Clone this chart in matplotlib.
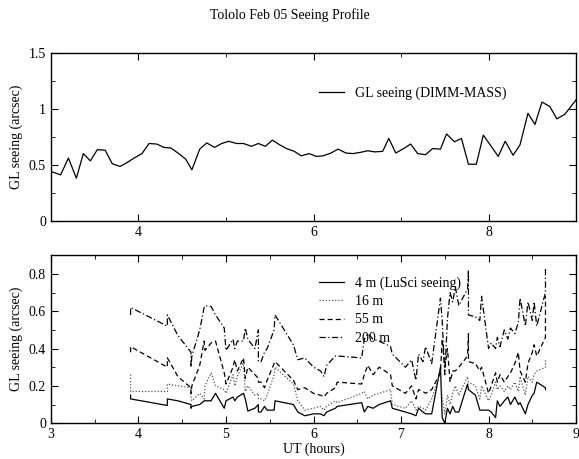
import numpy as np
import matplotlib
matplotlib.use("Agg")
import matplotlib.pyplot as plt
from matplotlib.ticker import MultipleLocator

# DIMM-MASS ground-layer seeing (top panel)
ut_dimm = [3.00, 3.11, 3.20, 3.29, 3.37, 3.45, 3.53, 3.62, 3.70, 3.79, 3.87, 3.95,
           4.04, 4.12, 4.21, 4.29, 4.37, 4.46, 4.54, 4.61, 4.70, 4.78, 4.87, 4.95,
           5.03, 5.12, 5.20, 5.29, 5.37, 5.45, 5.53, 5.61, 5.69, 5.78, 5.86, 5.95,
           6.03, 6.11, 6.20, 6.28, 6.37, 6.45, 6.53, 6.62, 6.70, 6.79, 6.86, 6.94,
           7.03, 7.11, 7.19, 7.28, 7.36, 7.45, 7.52, 7.61, 7.69, 7.77, 7.86, 7.94,
           8.03, 8.11, 8.19, 8.28, 8.36, 8.45, 8.53, 8.61, 8.70, 8.78, 8.87, 9.00]
gl_dimm = [0.44, 0.41, 0.56, 0.38, 0.60, 0.535, 0.635, 0.63, 0.51, 0.485, 0.52, 0.56,
           0.60, 0.69, 0.685, 0.655, 0.65, 0.60, 0.55, 0.455, 0.64, 0.695, 0.655, 0.69,
           0.71, 0.69, 0.69, 0.665, 0.69, 0.665, 0.72, 0.68, 0.645, 0.62, 0.58, 0.60,
           0.575, 0.58, 0.605, 0.64, 0.605, 0.60, 0.61, 0.625, 0.615, 0.62, 0.735, 0.605,
           0.645, 0.685, 0.60, 0.59, 0.645, 0.64, 0.775, 0.705, 0.735, 0.505, 0.505, 0.765,
           0.665, 0.575, 0.71, 0.585, 0.68, 0.96, 0.86, 1.06, 1.02, 0.91, 0.95, 1.08]

# LuSci profile (bottom panel)
ut_lusci = [3.91, 3.91, 4.33, 4.33, 4.45, 4.60, 4.60, 4.61, 4.70, 4.75,
            4.76, 4.83, 4.88, 4.98, 5.00, 5.08, 5.10, 5.13, 5.20, 5.22,
            5.25, 5.33, 5.37, 5.37, 5.40, 5.44, 5.47, 5.55, 5.56, 5.77,
            5.82, 5.90, 6.00, 6.08, 6.12, 6.15, 6.25, 6.27, 6.55, 6.58,
            6.62, 6.68, 6.75, 6.88, 6.90, 7.05, 7.12, 7.17, 7.20, 7.25,
            7.28, 7.35, 7.45, 7.47, 7.50, 7.53, 7.56, 7.59, 7.62, 7.66,
            7.76, 7.77, 7.77, 7.85, 7.90, 7.92, 8.00, 8.03, 8.08, 8.10,
            8.13, 8.18, 8.22, 8.25, 8.30, 8.34, 8.36, 8.42, 8.45, 8.50,
            8.52, 8.55, 8.65, 8.65]
gl_4m = [0.15, 0.13, 0.095, 0.13, 0.12, 0.10, 0.08, 0.09, 0.10, 0.12,
         0.12, 0.12, 0.16, 0.08, 0.12, 0.14, 0.12, 0.14, 0.16, 0.13,
         0.065, 0.08, 0.10, 0.06, 0.06, 0.09, 0.07, 0.07, 0.12, 0.10,
         0.06, 0.04, 0.05, 0.05, 0.04, 0.06, 0.08, 0.09, 0.11, 0.06,
         0.09, 0.08, 0.10, 0.12, 0.08, 0.06, 0.05, 0.04, 0.08, 0.06,
         0.05, 0.05, 0.30, 0.03, 0.00, 0.08, 0.05, 0.09, 0.06, 0.06,
         0.21, 0.18, 0.18, 0.15, 0.07, 0.07, 0.07, 0.06, 0.03, 0.12,
         0.09, 0.12, 0.14, 0.10, 0.14, 0.10, 0.11, 0.05, 0.10, 0.15,
         0.16, 0.22, 0.19, 0.18]
gl_16m = [0.26, 0.17, 0.17, 0.21, 0.20, 0.19, 0.13, 0.12, 0.16, 0.13,
          0.20, 0.27, 0.20, 0.18, 0.16, 0.26, 0.20, 0.25, 0.33, 0.17,
          0.20, 0.15, 0.16, 0.13, 0.13, 0.12, 0.15, 0.26, 0.30, 0.21,
          0.12, 0.07, 0.08, 0.09, 0.07, 0.09, 0.12, 0.11, 0.16, 0.17,
          0.13, 0.15, 0.16, 0.18, 0.10, 0.08, 0.12, 0.07, 0.09, 0.08,
          0.07, 0.13, 0.28, 0.14, 0.05, 0.15, 0.10, 0.16, 0.20, 0.15,
          0.25, 0.22, 0.22, 0.20, 0.13, 0.20, 0.12, 0.15, 0.22, 0.18,
          0.20, 0.17, 0.20, 0.18, 0.22, 0.17, 0.25, 0.15, 0.25, 0.22,
          0.26, 0.28, 0.30, 0.34]
gl_55m = [0.38, 0.41, 0.30, 0.35, 0.25, 0.19, 0.16, 0.20, 0.31, 0.44,
          0.39, 0.43, 0.44, 0.27, 0.21, 0.30, 0.34, 0.28, 0.35, 0.24,
          0.30, 0.26, 0.24, 0.22, 0.22, 0.19, 0.23, 0.32, 0.33, 0.23,
          0.18, 0.19, 0.16, 0.15, 0.14, 0.16, 0.19, 0.22, 0.21, 0.26,
          0.31, 0.26, 0.30, 0.26, 0.20, 0.16, 0.20, 0.13, 0.18, 0.17,
          0.16, 0.18, 0.27, 0.45, 0.30, 0.40, 0.22, 0.28, 0.28, 0.30,
          0.36, 0.48, 0.33, 0.32, 0.28, 0.30, 0.16, 0.20, 0.27, 0.22,
          0.26, 0.22, 0.25, 0.27, 0.32, 0.38, 0.28, 0.22, 0.32, 0.38,
          0.42, 0.36, 0.46, 0.68]
gl_200m = [0.58, 0.62, 0.52, 0.58, 0.47, 0.38, 0.30, 0.36, 0.50, 0.62,
           0.63, 0.625, 0.58, 0.51, 0.39, 0.45, 0.40, 0.44, 0.44, 0.51,
           0.45, 0.40, 0.50, 0.33, 0.33, 0.38, 0.40, 0.50, 0.58, 0.42,
           0.34, 0.35, 0.30, 0.28, 0.25, 0.31, 0.36, 0.36, 0.35, 0.45,
           0.48, 0.45, 0.44, 0.41, 0.37, 0.30, 0.34, 0.23, 0.37, 0.33,
           0.41, 0.32, 0.67, 0.55, 0.26, 0.56, 0.70, 0.65, 0.73, 0.63,
           0.72, 0.82, 0.58, 0.57, 0.55, 0.68, 0.40, 0.43, 0.40, 0.46,
           0.41, 0.50, 0.45, 0.51, 0.48, 0.54, 0.67, 0.52, 0.65, 0.55,
           0.65, 0.52, 0.70, 0.83]

plt.rcParams.update({"font.family": ["Liberation Serif", "DejaVu Serif"],
                     "font.size": 10,
                     "xtick.direction": "in", "ytick.direction": "in",
                     "xtick.top": True, "ytick.right": True,
                     "xtick.major.size": 5, "ytick.major.size": 5,
                     "xtick.minor.size": 3, "ytick.minor.size": 3,
                     "axes.linewidth": 1.0})

fig = plt.figure(figsize=(5.79, 4.59), dpi=100)
ax1 = fig.add_axes([0.088, 0.519, 0.907, 0.366])
ax2 = fig.add_axes([0.088, 0.078, 0.907, 0.366])

fig.text(0.5, 0.968, "Tololo Feb 05 Seeing Profile", ha="center", va="center", fontsize=10)

ax1.plot(ut_dimm, gl_dimm, color="black", lw=0.9, label="GL seeing (DIMM-MASS)")
ax1.set_xlim(3, 9)
ax1.set_ylim(0, 1.5)
ax1.xaxis.set_major_locator(MultipleLocator(2))
ax1.xaxis.set_minor_locator(MultipleLocator(1))
ax1.set_yticks([0, 0.5, 1, 1.5], ["0", "0.5", "1", "1.5"])
ax1.yaxis.set_minor_locator(MultipleLocator(0.25))
ax1.tick_params(which="both", top=True, right=True)
ax1.set_ylabel("GL seeing (arcsec)")
ax1.legend(loc="upper left", bbox_to_anchor=(0.497, 0.84), frameon=False,
           handlelength=1.8, borderpad=0, handletextpad=0.8)

ax2.plot(ut_lusci, gl_4m, color="black", lw=0.9, ls="-", label="4 m (LuSci seeing)")
ax2.plot(ut_lusci, gl_16m, color="#555555", lw=0.9, ls=(0, (1, 1.5)), label="16 m")
ax2.plot(ut_lusci, gl_55m, color="black", lw=0.9, ls=(0, (4, 2.5)), label="55 m")
ax2.plot(ut_lusci, gl_200m, color="black", lw=0.9, ls=(0, (5, 2, 1, 2)), label="200 m")
ax2.set_xlim(3, 9)
ax2.set_ylim(0, 0.9)
ax2.xaxis.set_major_locator(MultipleLocator(1))
ax2.xaxis.set_minor_locator(MultipleLocator(0.5))
ax2.set_yticks([0, 0.2, 0.4, 0.6, 0.8], ["0", "0.2", "0.4", "0.6", "0.8"])
ax2.yaxis.set_minor_locator(MultipleLocator(0.1))
ax2.tick_params(which="both", top=True, right=True)
ax2.set_ylabel("GL seeing (arcsec)")
ax2.set_xlabel("UT (hours)", labelpad=1)
ax2.legend(loc="upper left", bbox_to_anchor=(0.497, 0.915), frameon=False,
           handlelength=1.8, borderpad=0, handletextpad=0.8, labelspacing=0.38)

fig.savefig("out.png", dpi=100)
